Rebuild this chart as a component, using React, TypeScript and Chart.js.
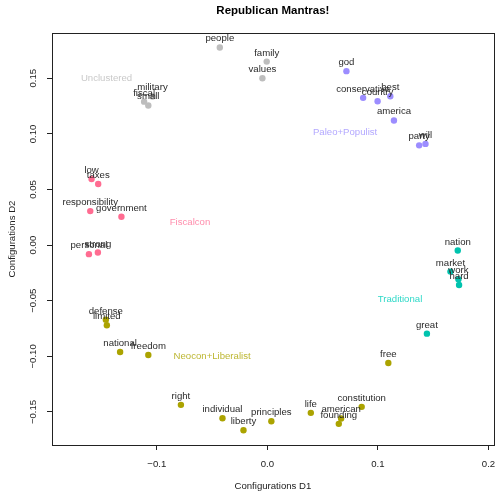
import React, { useEffect, useRef } from "react";
import { Chart, registerables } from "chart.js";

Chart.register(...registerables);

// ---------- data ----------
const xTicks = [-0.1, 0.0, 0.1, 0.2];
const yTicks = [-0.15, -0.1, -0.05, 0.0, 0.05, 0.1, 0.15];
const xMin = -0.1948;
const xMax = 0.2048;
const yMin = -0.1797;
const yMax = 0.1907;

const chartTitle = "Republican Mantras!";
const xTitle = "Configurations D1";
const yTitle = "Configurations D2";

const clusterNames = ["Unclustered", "Paleo+Populist", "Fiscalcon", "Traditional", "Neocon+Liberalist"];
const clusterColors = ["#BDBDBD", "#9C8DFF", "#FF6C91", "#00C3AE", "#ABA300"];
const clusterLabelColors = ["#C9C9C9", "#B3A8FF", "#FF8DAC", "#2FD9C8", "#BDB733"];
const clusterLabelX = [-0.1455, 0.0703, -0.07, 0.12, -0.05];
const clusterLabelY = [0.1498, 0.1014, 0.0204, -0.0486, -0.0997];

const unclusteredWords = ["people", "family", "values", "fiscal", "small", "military"];
const unclusteredX = [-0.043, -0.0006, -0.0045, -0.1115, -0.1077, -0.1039];
const unclusteredY = [0.1777, 0.165, 0.15, 0.129, 0.1255, 0.1336];

const paleoWords = ["god", "conservative", "country", "best", "america", "party", "will"];
const paleoX = [0.0715, 0.0866, 0.0997, 0.1112, 0.1145, 0.1373, 0.143];
const paleoY = [0.1564, 0.1324, 0.1294, 0.1339, 0.112, 0.0897, 0.091];

const fiscalWords = ["low", "taxes", "responsibility", "government", "personal", "strong"];
const fiscalX = [-0.159, -0.153, -0.1602, -0.132, -0.1614, -0.1533];
const fiscalY = [0.0595, 0.055, 0.0306, 0.0255, -0.0081, -0.0067];

const tradWords = ["nation", "market", "work", "hard", "great"];
const tradX = [0.1722, 0.1656, 0.1728, 0.1734, 0.1443];
const tradY = [-0.0049, -0.0238, -0.0306, -0.0358, -0.0796];

const neoWords = ["defense", "limited", "national", "freedom", "right", "individual", "liberty", "principles", "free", "life", "constitution", "american", "founding"];
const neoX = [-0.1461, -0.1452, -0.1332, -0.1077, -0.0782, -0.0406, -0.0216, 0.0036, 0.1094, 0.0393, 0.0853, 0.0667, 0.0646];
const neoY = [-0.067, -0.0721, -0.0961, -0.0988, -0.1436, -0.1556, -0.1664, -0.1583, -0.106, -0.1508, -0.1454, -0.1559, -0.1607];

const groupWords = [unclusteredWords, paleoWords, fiscalWords, tradWords, neoWords];
const groupX = [unclusteredX, paleoX, fiscalX, tradX, neoX];
const groupY = [unclusteredY, paleoY, fiscalY, tradY, neoY];

// ---------- styling ----------
const FONT_FAMILY = '"Liberation Sans", Arial, Helvetica, sans-serif';
const FS = 9.6;
const AXIS_COLOR = "#222222";

const fmt = (v: number, d: number) => {
  const s = Math.abs(v).toFixed(d);
  return v < -1e-9 ? "\u2212" + s : s;
};

const overlayPlugin = {
  id: "overlay",
  afterDatasetsDraw(chart: any) {
    const ctx = chart.ctx;
    const { left, right, top, bottom } = chart.chartArea;
    const xs = chart.scales.x;
    const ys = chart.scales.y;
    ctx.save();
    // box
    ctx.strokeStyle = AXIS_COLOR;
    ctx.lineWidth = 1;
    ctx.strokeRect(Math.round(left) + 0.5, Math.round(top) + 0.5, Math.round(right - left), Math.round(bottom - top));

    // word labels
    ctx.font = `${FS}px ${FONT_FAMILY}`;
    ctx.textAlign = "center";
    ctx.textBaseline = "middle";
    ctx.fillStyle = "#2a2a2a";
    chart.data.datasets.forEach((ds: any, i: number) => {
      const meta = chart.getDatasetMeta(i);
      meta.data.forEach((el: any, j: number) => {
        ctx.fillText(groupWords[i][j], el.x, el.y - 8.7);
      });
    });

    // cluster labels
    clusterNames.forEach((n, i) => {
      ctx.fillStyle = clusterLabelColors[i];
      ctx.fillText(n, xs.getPixelForValue(clusterLabelX[i]), ys.getPixelForValue(clusterLabelY[i]));
    });

    // y tick labels (rotated, R style)
    ctx.fillStyle = AXIS_COLOR;
    ys.ticks.forEach((t: any) => {
      const py = ys.getPixelForValue(t.value);
      ctx.save();
      ctx.translate(left - 18.5, py);
      ctx.rotate(-Math.PI / 2);
      ctx.fillText(fmt(t.value, 2), 0, 0);
      ctx.restore();
    });

    // title
    ctx.font = `bold 11.5px ${FONT_FAMILY}`;
    ctx.fillStyle = "#000";
    ctx.fillText(chartTitle, (left + right) / 2, 10.5);
    ctx.restore();
  },
};

export default function App() {
  const ref = useRef<HTMLCanvasElement>(null);
  useEffect(() => {
    if (!ref.current) return;
    const datasets = clusterNames.map((name, i) => ({
      label: name,
      data: groupX[i].map((x, j) => ({ x, y: groupY[i][j] })),
      backgroundColor: clusterColors[i],
      borderWidth: 0,
      pointRadius: 3.2,
      pointHoverRadius: 3.2,
    }));
    const chart = new Chart(ref.current, {
      type: "scatter",
      data: { datasets },
      plugins: [overlayPlugin],
      options: {
        animation: false,
        responsive: false,
        devicePixelRatio: 1,
        layout: { padding: { top: 33, right: 1, bottom: 0, left: 0 } },
        plugins: { legend: { display: false }, tooltip: { enabled: false }, title: { display: false } },
        scales: {
          x: {
            type: "linear",
            position: "bottom",
            min: xMin,
            max: xMax,
            afterBuildTicks: (s: any) => {
              s.ticks = xTicks.map((v) => ({ value: v }));
            },
            afterFit: (s: any) => {
              s.height = 47;
              s.paddingLeft = 0;
              s.paddingRight = 0;
            },
            ticks: {
              callback: (v: any) => fmt(Number(v), 1),
              font: { family: FONT_FAMILY, size: FS },
              color: AXIS_COLOR,
              padding: 9,
              maxRotation: 0,
              autoSkip: false,
            },
            grid: { display: true, drawOnChartArea: false, drawTicks: true, tickLength: 5, color: AXIS_COLOR },
            border: { display: false },
            title: {
              display: true,
              text: xTitle,
              font: { family: FONT_FAMILY, size: FS },
              color: AXIS_COLOR,
              padding: { top: 0, bottom: 0 },
            },
          },
          y: {
            type: "linear",
            position: "left",
            min: yMin,
            max: yMax,
            afterBuildTicks: (s: any) => {
              s.ticks = yTicks.map((v) => ({ value: v }));
            },
            afterFit: (s: any) => {
              s.width = 52;
              s.paddingTop = 0;
              s.paddingBottom = 0;
            },
            ticks: { display: false },
            grid: { display: true, drawOnChartArea: false, drawTicks: true, tickLength: 5, color: AXIS_COLOR },
            border: { display: false },
            title: {
              display: true,
              text: yTitle,
              font: { family: FONT_FAMILY, size: FS },
              color: AXIS_COLOR,
              padding: { top: 6.5, bottom: 0 },
            },
          },
        },
      } as any,
    });
    return () => chart.destroy();
  }, []);

  return (
    <div style={{ position: "absolute", left: 0, top: 0, width: 497, height: 492, background: "#fff" }}>
      <canvas ref={ref} width={497} height={492} style={{ width: 497, height: 492, display: "block" }} />
    </div>
  );
}
